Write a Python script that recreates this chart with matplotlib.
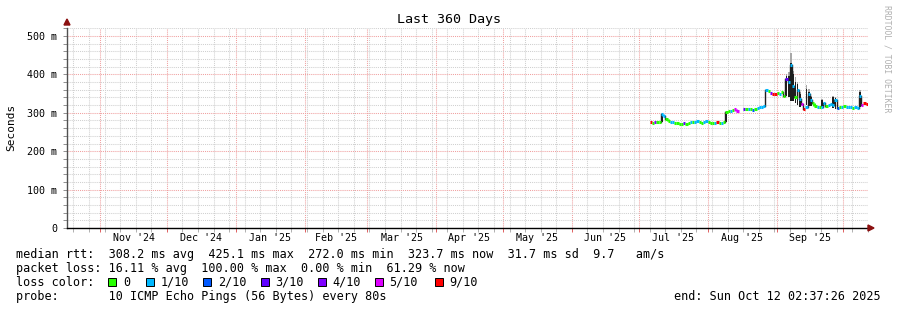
import numpy as np
import pandas as pd
import matplotlib
matplotlib.use("Agg")
import matplotlib.pyplot as plt
import matplotlib.dates as mdates
from matplotlib.patches import Polygon, Rectangle
from datetime import datetime, timedelta

# ---------------- data ----------------
graph_start = datetime(2024, 10, 17, 2, 37, 26)
graph_end = datetime(2025, 10, 12, 2, 37, 26)
data_start = "2025-07-06"

# daily median rtt (ms); NaN = no data
median_ms = [
    275, 274, 276, 275, 276, 296, 292, 284, 279, 276,
    275, 274, 273, 272, 272, 273, 272, 274, 275, 276,
    277, 278, 276, 274, 275, 279, 275, 273, 274, 273,
    275, 273, 274, 276, 303, 304, 305, 306, 309, 304,
    np.nan, np.nan, 309, 310, 309, 310, 308, 309, 313, 314,
    316, 317, 360, 358, 352, 350, 348, 352, 350, 355,
    345, 388, 380, 425, 370, 340, 360, 335, 322, 310,
    315, 350, 332, 325, 318, 315, 316, 315, 326, 318,
    320, 322, 320, 332, 313, 314, 316, 317, 315, 314,
    316, 313, 314, 313, 345, 320, 326, 324,
]
# loss level per day (pings lost out of 10)
loss_level = [
    9, 0, 4, 0, 0, 1, 1, 0, 0, 1,
    1, 0, 0, 0, 0, 3, 0, 0, 1, 0,
    1, 1, 0, 0, 1, 1, 0, 0, 0, 1,
    9, 0, 1, 0, 0, 0, 1, 0, 5, 5,
    0, 0, 3, 0, 1, 0, 2, 0, 1, 1,
    1, 1, 1, 0, 4, 9, 9, 0, 1, 0,
    0, 3, 1, 1, 1, 0, 1, 1, 5, 9,
    1, 1, 1, 0, 0, 1, 0, 1, 1, 0,
    1, 1, 1, 1, 2, 0, 1, 0, 1, 1,
    1, 0, 1, 1, 1, 5, 9, 9,
]
# smoke (spread of the pings) on the days where it is visible
smoke_dates = ["2025-07-11", "2025-08-09", "2025-09-05", "2025-09-06", "2025-09-07",
               "2025-09-08", "2025-09-09", "2025-09-10", "2025-09-11", "2025-09-14",
               "2025-09-15", "2025-09-16", "2025-09-21", "2025-09-26", "2025-09-27",
               "2025-10-08"]
smoke_low = [275, 276, 345, 340, 330, 330, 325, 320, 315, 320, 318, 318, 315, 312, 310, 315]
smoke_high = [298, 304, 395, 395, 430, 400, 380, 375, 350, 362, 355, 340, 333, 340, 338, 353]
smoke_outer = [298, 304, 400, 405, 455, 410, 392, 380, 355, 372, 362, 345, 336, 344, 340, 360]

loss_labels = ["0", "1/10", "2/10", "3/10", "4/10", "5/10", "9/10"]
loss_values = [0, 1, 2, 3, 4, 5, 9]
loss_colors = ["#26ff00", "#00b8ff", "#0059ff", "#5e00ff", "#7e00ff", "#dd00ff", "#ff0000"]

y_ticks = [0, 100, 200, 300, 400, 500]
month_labels = ["Nov '24", "Dec '24", "Jan '25", "Feb '25", "Mar '25", "Apr '25",
                "May '25", "Jun '25", "Jul '25", "Aug '25", "Sep '25"]

rtt_text = "median rtt:  308.2 ms avg  425.1 ms max  272.0 ms min  323.7 ms now  31.7 ms sd  9.7   am/s"
loss_text = "packet loss: 16.11 % avg  100.00 % max  0.00 % min  61.29 % now"
probe_text = "probe:       10 ICMP Echo Pings (56 Bytes) every 80s"
end_text = "end: Sun Oct 12 02:37:26 2025"

# ---------------- figure ----------------
W, H = 897, 310
MONO = "DejaVu Sans Mono"
fig = plt.figure(figsize=(W / 100, H / 100), dpi=100)
fig.patch.set_facecolor("white")

def fx(px):
    return px / W

def fy(py):
    return 1 - py / H

ax_left, ax_right, ax_bottom, ax_top = 67, 868, 228, 28.3
ax = fig.add_axes([fx(ax_left), fy(ax_bottom), (ax_right - ax_left) / W, (ax_bottom - ax_top) / H])
ax.set_facecolor("white")
ax.set_xlim(graph_start, graph_end)
ax.set_ylim(0, 520)

# grid
minor_c = "#d0d0d0"
major_c = "#f0a0a0"
dot = (0, (1, 1))
ax.xaxis.set_major_locator(mdates.MonthLocator())
ax.xaxis.set_minor_locator(mdates.WeekdayLocator(byweekday=mdates.SU))
ax.yaxis.set_major_locator(matplotlib.ticker.FixedLocator(y_ticks))
ax.yaxis.set_minor_locator(matplotlib.ticker.MultipleLocator(20))
ax.grid(which="minor", color=minor_c, linestyle=dot, linewidth=0.75)
ax.grid(which="major", color=major_c, linestyle=dot, linewidth=0.75)
ax.set_axisbelow(True)
ax.tick_params(axis="x", which="both", labelbottom=False, length=3, width=0.7, direction="out")
ax.tick_params(axis="x", which="major", color="#e06060")
ax.tick_params(axis="x", which="minor", color="#b0b0b0")
ax.tick_params(axis="y", which="both", length=3, width=0.7, color="#909090")
ax.set_yticklabels([("%d m" % v) if v else "0" for v in y_ticks], family=MONO, fontsize=7.2)
ax.tick_params(axis="y", pad=4)
for s in ["top", "right"]:
    ax.spines[s].set_visible(False)
ax.spines["left"].set_color("#505050")
ax.spines["left"].set_linewidth(1.0)
ax.spines["bottom"].set_color("black")
ax.spines["bottom"].set_linewidth(1.0)

# month labels at mid-month
for i, lab in enumerate(month_labels):
    m0 = datetime(2024, 11 + i, 1) if 11 + i <= 12 else datetime(2025, 11 + i - 12, 1)
    nm = m0.month + 1
    m1 = datetime(m0.year + (nm > 12), (nm - 1) % 12 + 1, 1)
    mid = m0 + (m1 - m0) / 2
    ax.text(mdates.date2num(mid), -0.05, lab, transform=ax.get_xaxis_transform(),
            ha="center", va="center", family=MONO, fontsize=7.2)

# data
days = pd.date_range(data_start, periods=len(median_ms), freq="D")
med = np.array(median_ms, dtype=float)
color_of = dict(zip(loss_values, loss_colors))

# smoke
one = timedelta(days=1)
for d, lo, hi, out in zip(smoke_dates, smoke_low, smoke_high, smoke_outer):
    t = pd.Timestamp(d)
    x0 = mdates.date2num(t + one * 0.15)
    x1 = mdates.date2num(t + one * 0.85)
    ax.fill_between([x0, x1], [hi, hi], [out, out], color="#a8a8a8", linewidth=0, zorder=2)
    ax.fill_between([x0, x1], [lo, lo], [hi, hi], color="#1e1e1e", linewidth=0, zorder=3)

# median line coloured by loss
lw = 2.2
for i in range(len(med)):
    if np.isnan(med[i]):
        continue
    c = color_of[loss_level[i]]
    t0 = mdates.date2num(days[i])
    t1 = mdates.date2num(days[i] + one)
    ax.plot([t0, t1], [med[i], med[i]], color=c, linewidth=lw, solid_capstyle="butt", zorder=4)
    if i + 1 < len(med) and not np.isnan(med[i + 1]):
        jump = abs(med[i + 1] - med[i])
        if loss_level[i + 1] == loss_level[i] and jump <= 8:
            ax.plot([t1, t1], [med[i], med[i + 1]], color=c, linewidth=lw,
                    solid_capstyle="butt", zorder=4)
        elif jump > 6:
            ax.plot([t1, t1], [med[i], med[i + 1]], color="#1e1e1e", linewidth=1.0, zorder=3)

# axis arrows
arrow_c = "#8b1010"
fig.patches.append(Polygon([[fx(64), fy(25)], [fx(70), fy(25)], [fx(67), fy(19)]], closed=True,
                           transform=fig.transFigure, color=arrow_c, zorder=10))
fig.patches.append(Polygon([[fx(868), fy(225)], [fx(868), fy(231)], [fx(874), fy(228)]], closed=True,
                           transform=fig.transFigure, color=arrow_c, zorder=10))

# texts
fig.text(0.5, fy(19), "Last 360 Days", ha="center", va="center", family=MONO, fontsize=9.6)
fig.text(fx(11), fy(127), "Seconds", rotation=90, ha="center", va="center", family=MONO, fontsize=8)
fig.text(fx(887), fy(59), "RRDTOOL / TOBI OETIKER", rotation=270, ha="center", va="center",
         family=MONO, fontsize=5.9, color="#b0b0b0")

fs = 8.5
fig.text(fx(16), fy(254.3), rtt_text, ha="left", va="center", family=MONO, fontsize=fs)
fig.text(fx(16), fy(268.3), loss_text, ha="left", va="center", family=MONO, fontsize=fs)
fig.text(fx(16), fy(282.3), "loss color:", ha="left", va="center", family=MONO, fontsize=fs)
box_x = [108.3, 145.7, 203.3, 260.7, 317.7, 375, 435]
for bx, lab, c in zip(box_x, loss_labels, loss_colors):
    fig.patches.append(Rectangle((fx(bx), fy(286)), 8 / W, 8 / H, transform=fig.transFigure,
                                 facecolor=c, edgecolor="black", linewidth=0.7))
    fig.text(fx(bx + 14.5), fy(282.3), lab, ha="left", va="center", family=MONO, fontsize=fs)
fig.text(fx(16), fy(296.3), probe_text, ha="left", va="center", family=MONO, fontsize=fs)
fig.text(fx(881), fy(296.3), end_text, ha="right", va="center", family=MONO, fontsize=fs)

fig.savefig("out.png", dpi=100, facecolor="white")
